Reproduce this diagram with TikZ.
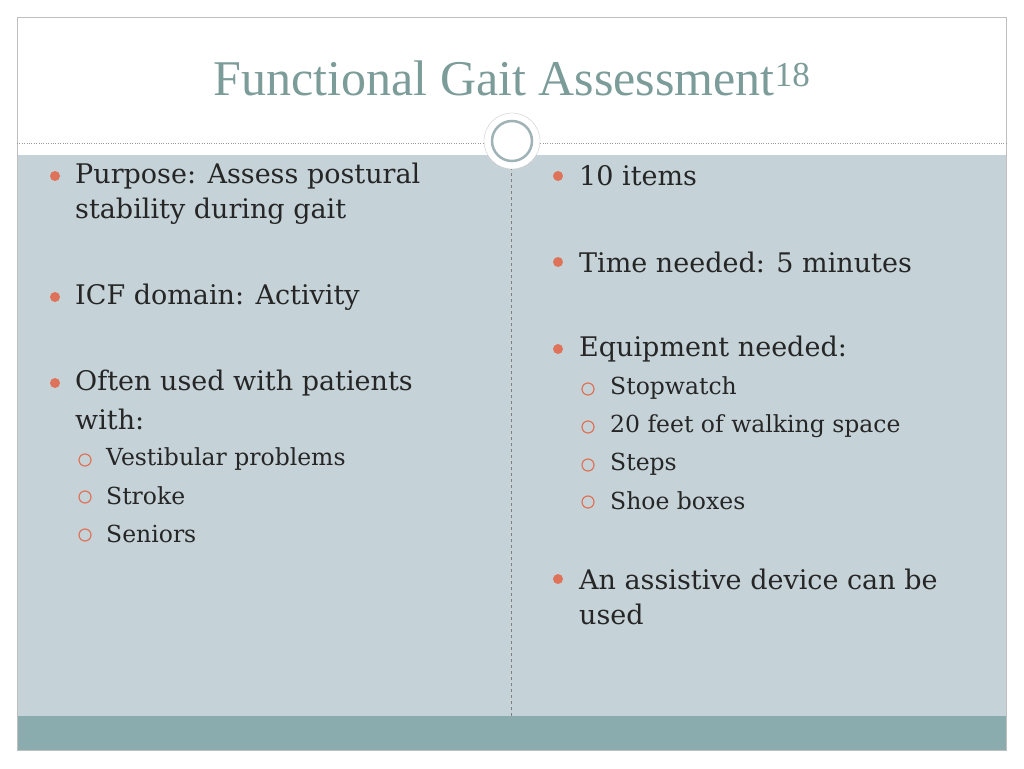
\documentclass[tikz,border=0pt]{standalone}
\usepackage{fontspec}
\setmainfont{Liberation Serif}
\newfontfamily\bodyfont{DejaVu Serif}
\usetikzlibrary{positioning}
\definecolor{panel}{HTML}{C5D3D8}
\definecolor{band}{HTML}{8AACAE}
\definecolor{titlec}{HTML}{7C9C99}
\definecolor{dotc}{HTML}{DF7359}
\definecolor{ringc}{HTML}{9FB2B6}
\begin{document}
\begin{tikzpicture}[x=1pt,y=-1pt,
    main/.style={anchor=west, inner sep=0pt, text=black!85, font=\bodyfont\fontsize{27}{33}\selectfont},
    sub/.style={anchor=west, inner sep=0pt, text=black!85, font=\bodyfont\fontsize{23.5}{28}\selectfont},
    dotm/.style={circle, fill=dotc, inner sep=0pt, minimum size=10pt},
    dots/.style={circle, draw=dotc, line width=1.2pt, inner sep=0pt, minimum size=12pt},
]
    \useasboundingbox (0,0) rectangle (1024,768);
    \fill[white] (0,0) rectangle (1024,768);
    \fill[panel] (17,155) rectangle (1006,716);
    \fill[band] (17,716) rectangle (1006,750);
    \draw[black!25] (17,17) rectangle (1006,750);
    \draw[black!40, dotted] (17,143) -- (1006,143);
    \draw[black!50, dashed] (511,155) -- (511,716);
    \node[circle, fill=white, draw=black!20, minimum size=56pt] (ring) at (512,141) {};
    \node[circle, draw=ringc, line width=2.5pt, minimum size=40pt] (inner) at (ring) {};
    \node[text=titlec, font=\fontsize{50}{56}\selectfont] (title) at (512,78) {Functional Gait Assessment\textsuperscript{18}};

    % left column
    \node[dotm] (dl1) at (55,176) {};
    \node[main] (l1) at (75,176) {Purpose: Assess postural};
    \node[main] (l1b) at (75,211) {stability during gait};
    \node[dotm] (dl2) at (55,297) {};
    \node[main] (l2) at (75,297) {ICF domain: Activity};
    \node[dotm] (dl3) at (55,383) {};
    \node[main] (l3) at (75,383) {Often used with patients};
    \node[main] (l3b) at (75,419) {with:};
    \node[dots] (sl1) at (85,460) {};
    \node[sub] (s1) at (106,459) {Vestibular problems};
    \node[dots] (sl2) at (85,497) {};
    \node[sub] (s2) at (106,496) {Stroke};
    \node[dots] (sl3) at (85,535) {};
    \node[sub] (s3) at (106,534) {Seniors};

    % right column
    \node[dotm] (dr1) at (558,176) {};
    \node[main] (r1) at (579,176) {10 items};
    \node[dotm] (dr2) at (558,262) {};
    \node[main] (r2) at (579,262) {Time needed: 5 minutes};
    \node[dotm] (dr3) at (558,349) {};
    \node[main] (r3) at (579,349) {Equipment needed:};
    \node[dots] (sr1) at (588,389) {};
    \node[sub] (t1) at (610,388) {Stopwatch};
    \node[dots] (sr2) at (588,427) {};
    \node[sub] (t2) at (610,426) {20 feet of walking space};
    \node[dots] (sr3) at (588,465) {};
    \node[sub] (t3) at (610,464) {Steps};
    \node[dots] (sr4) at (588,502) {};
    \node[sub] (t4) at (610,501) {Shoe boxes};
    \node[dotm] (dr4) at (558,579) {};
    \node[main] (r4) at (579,579) {An assistive device can be};
    \node[main] (r4b) at (579,614) {used};
\end{tikzpicture}
\end{document}
